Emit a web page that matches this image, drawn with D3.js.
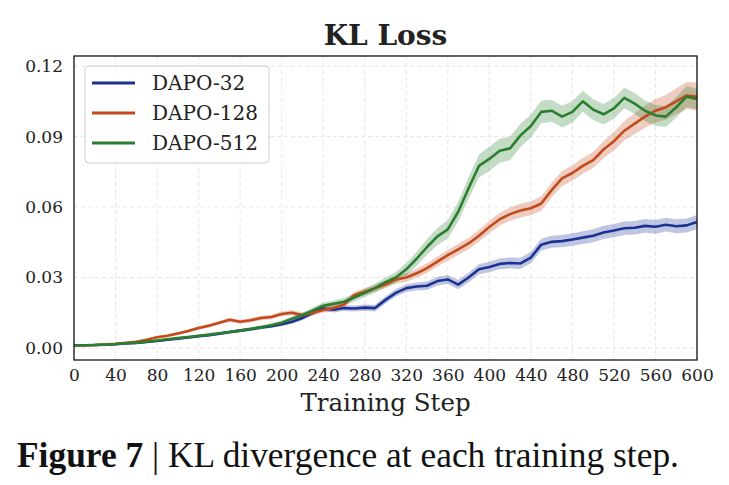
<!DOCTYPE html>
<html>
<head>
<meta charset="utf-8">
<script src="https://cdn.jsdelivr.net/npm/d3@7"></script>
<style>
  body { margin: 0; background: #fff; }
  svg { display: block; }
</style>
</head>
<body>
<div id="chart"></div>
<script>
// Canvas and plot box
let dim = { 'width': 729, 'height': 485 };
let box = { 'left': 74, 'right': 697, 'top': 56, 'bottom': 360 };

// Training steps sampled every 10 steps
let steps = d3.range(0, 601, 10);

// Mean KL loss of each run
let dapo32 = [
    0.0012, 0.0012, 0.0013, 0.0014, 0.0016, 0.0019, 0.0022, 0.0026, 0.0030, 0.0035,
    0.0040, 0.0045, 0.0050, 0.0055, 0.0061, 0.0068, 0.0074, 0.0080, 0.0087, 0.0093,
    0.0101, 0.0112, 0.0128, 0.0150, 0.0168, 0.0163, 0.0170, 0.0168, 0.0172, 0.0170,
    0.0205, 0.0235, 0.0255, 0.0262, 0.0265, 0.0285, 0.0292, 0.0270, 0.0300, 0.0335,
    0.0345, 0.0358, 0.0362, 0.0360, 0.0385, 0.0440, 0.0452, 0.0455, 0.0462, 0.0470,
    0.0478, 0.0492, 0.0500, 0.0510, 0.0512, 0.0520, 0.0516, 0.0525, 0.0518, 0.0522,
    0.0536
];
let dapo128 = [
    0.0012, 0.0012, 0.0013, 0.0015, 0.0018, 0.0022, 0.0027, 0.0035, 0.0046, 0.0052,
    0.0062, 0.0072, 0.0085, 0.0095, 0.0108, 0.0120, 0.0112, 0.0118, 0.0128, 0.0132,
    0.0145, 0.0150, 0.0140, 0.0150, 0.0162, 0.0170, 0.0185, 0.0225, 0.0240, 0.0255,
    0.0270, 0.0292, 0.0300, 0.0318, 0.0340, 0.0368, 0.0395, 0.0420, 0.0445, 0.0478,
    0.0515, 0.0548, 0.0570, 0.0585, 0.0595, 0.0615, 0.0672, 0.0722, 0.0745, 0.0775,
    0.0800, 0.0845, 0.0880, 0.0925, 0.0955, 0.0985, 0.1010, 0.1025, 0.1050, 0.1075,
    0.1070
];
let dapo512 = [
    0.0012, 0.0012, 0.0013, 0.0015, 0.0017, 0.0020, 0.0023, 0.0027, 0.0032, 0.0037,
    0.0042, 0.0047, 0.0052, 0.0057, 0.0063, 0.0068, 0.0074, 0.0081, 0.0088, 0.0097,
    0.0108, 0.0125, 0.0140, 0.0160, 0.0180, 0.0188, 0.0197, 0.0215, 0.0235, 0.0255,
    0.0280, 0.0300, 0.0335, 0.0380, 0.0430, 0.0475, 0.0505, 0.0580, 0.0680, 0.0775,
    0.0805, 0.0840, 0.0850, 0.0905, 0.0945, 0.1005, 0.1010, 0.0985, 0.1005, 0.1050,
    0.1015, 0.0995, 0.1020, 0.1065, 0.1040, 0.1010, 0.0990, 0.0985, 0.1025, 0.1070,
    0.1060
];

// Half width of the shaded band, read every 100 steps
let spreadSteps = [0, 100, 200, 300, 400, 500, 600];
let spread32 = [0.0003, 0.0005, 0.0008, 0.0015, 0.0022, 0.0028, 0.0030];
let spread128 = [0.0003, 0.0007, 0.0010, 0.0016, 0.0027, 0.0034, 0.0060];
let spread512 = [0.0003, 0.0005, 0.0009, 0.0020, 0.0052, 0.0044, 0.0044];

let seriesNames = ['DAPO-32', 'DAPO-128', 'DAPO-512'];
let seriesColors = ['#1b3292', '#c24a1c', '#2a7f2f'];

let xTicks = d3.range(0, 601, 40);
let yTicks = [0.00, 0.03, 0.06, 0.09, 0.12];

let series = [
    { name: seriesNames[0], values: dapo32, spread: spread32, color: seriesColors[0] },
    { name: seriesNames[1], values: dapo128, spread: spread128, color: seriesColors[1] },
    { name: seriesNames[2], values: dapo512, spread: spread512, color: seriesColors[2] }
];

// Scales
let x = d3.scaleLinear()
    .domain([0, 600])
    .range([box.left, box.right]);

let y = d3.scaleLinear()
    .domain([-0.0051, 0.1243])
    .range([box.bottom, box.top]);

let svg = d3.select('#chart')
    .append('svg')
    .attr('width', dim.width)
    .attr('height', dim.height)
    .style('font-family', '"DejaVu Serif", serif');

// Dashed grid
svg.append('g')
    .selectAll('line')
    .data(xTicks)
    .join('line')
    .attr('x1', d => x(d)).attr('x2', d => x(d))
    .attr('y1', box.top).attr('y2', box.bottom)
    .attr('stroke', '#e6e6e6')
    .attr('stroke-dasharray', '4,3');

svg.append('g')
    .selectAll('line')
    .data(yTicks)
    .join('line')
    .attr('x1', box.left).attr('x2', box.right)
    .attr('y1', d => y(d)).attr('y2', d => y(d))
    .attr('stroke', '#e6e6e6')
    .attr('stroke-dasharray', '4,3');

// Bands first, then the mean lines on top
let band = d3.area()
    .x(d => x(d.step))
    .y0(d => y(d.v - d.s))
    .y1(d => y(d.v + d.s));

let line = d3.line()
    .x(d => x(d.step))
    .y(d => y(d.v));

let rows = series.map(s => {
    let sp = d3.scaleLinear().domain(spreadSteps).range(s.spread);
    return steps.map((st, i) => ({ step: st, v: s.values[i], s: sp(st) }));
});

svg.append('g')
    .selectAll('path')
    .data(series)
    .join('path')
    .attr('d', (s, i) => band(rows[i]))
    .attr('fill', s => s.color)
    .attr('fill-opacity', 0.28);

svg.append('g')
    .selectAll('path')
    .data(series)
    .join('path')
    .attr('d', (s, i) => line(rows[i]))
    .attr('fill', 'none')
    .attr('stroke', s => s.color)
    .attr('stroke-width', 2.6)
    .attr('stroke-linejoin', 'round');

// Frame
svg.append('rect')
    .attr('x', box.left).attr('y', box.top)
    .attr('width', box.right - box.left)
    .attr('height', box.bottom - box.top)
    .attr('fill', 'none')
    .attr('stroke', '#111')
    .attr('stroke-width', 1.3);

// Axes, no tick marks, only labels
let xAxis = svg.append('g')
    .attr('transform', `translate(0, ${box.bottom})`)
    .call(d3.axisBottom(x).tickValues(xTicks).tickSize(0).tickPadding(9));

let yAxis = svg.append('g')
    .attr('transform', `translate(${box.left}, 0)`)
    .call(d3.axisLeft(y).tickValues(yTicks).tickSize(0).tickPadding(11)
        .tickFormat(d3.format('.2f')));

[xAxis, yAxis].forEach(a => {
    a.select('.domain').remove();
    a.selectAll('text')
        .attr('font-family', '"DejaVu Serif", serif')
        .attr('font-size', 17)
        .attr('fill', '#222');
});

// Title and axis label
svg.append('text')
    .attr('x', (box.left + box.right) / 2)
    .attr('y', 45)
    .attr('text-anchor', 'middle')
    .attr('font-size', 28)
    .attr('font-weight', 'bold')
    .attr('fill', '#222')
    .text('KL Loss');

svg.append('text')
    .attr('x', (box.left + box.right) / 2)
    .attr('y', 411)
    .attr('text-anchor', 'middle')
    .attr('font-size', 24.5)
    .attr('fill', '#222')
    .text('Training Step');

// Legend
let legend = svg.append('g');
legend.append('rect')
    .attr('x', 85).attr('y', 66)
    .attr('width', 184).attr('height', 97)
    .attr('rx', 4)
    .attr('fill', '#fff')
    .attr('fill-opacity', 0.85)
    .attr('stroke', '#ccc');

let item = legend.selectAll('.item')
    .data(series)
    .join('g')
    .classed('item', true)
    .attr('transform', (d, i) => `translate(0, ${83 + i * 30})`);

item.append('line')
    .attr('x1', 92).attr('x2', 135)
    .attr('stroke', d => d.color)
    .attr('stroke-width', 3);

item.append('text')
    .attr('x', 152)
    .attr('dy', '0.35em')
    .attr('font-size', 20)
    .attr('fill', '#222')
    .text(d => d.name);

// Caption under the chart
let caption = svg.append('text')
    .attr('x', 17)
    .attr('y', 467)
    .attr('font-family', '"Liberation Serif", serif')
    .attr('font-size', 35.4)
    .attr('fill', '#111');
caption.append('tspan').attr('font-weight', 'bold').text('Figure 7');
caption.append('tspan').text(' | KL divergence at each training step.');
</script>
</body>
</html>
